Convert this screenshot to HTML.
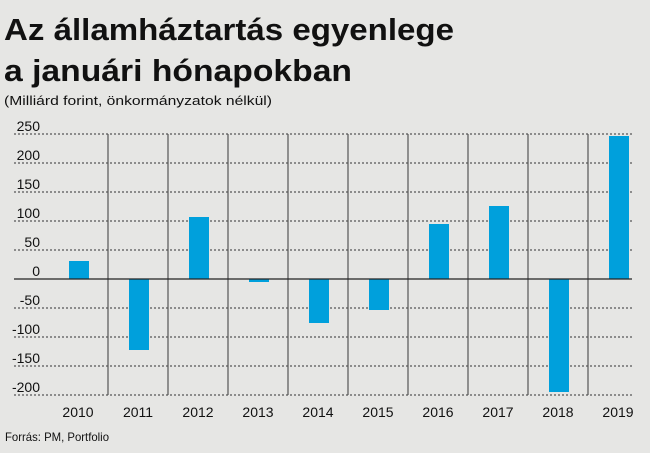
<!DOCTYPE html>
<html><head><meta charset="utf-8"><style>
body{margin:0;background:#e6e6e4;}
svg{display:block}
text{font-family:"Liberation Sans",sans-serif;fill:#111}
</style></head><body>
<svg width="650" height="453" viewBox="0 0 650 453">
<rect width="650" height="453" fill="#e6e6e4"/>
<text x="4" y="40" font-size="31" font-weight="bold" textLength="450" lengthAdjust="spacingAndGlyphs">Az államháztartás egyenlege</text>
<text x="4" y="81" font-size="31" font-weight="bold" textLength="348" lengthAdjust="spacingAndGlyphs">a januári hónapokban</text>
<text x="4" y="105" font-size="13" textLength="268" lengthAdjust="spacingAndGlyphs">(Milliárd forint, önkormányzatok nélkül)</text>
<g stroke="#333" stroke-width="1" stroke-dasharray="2,2">
<line x1="14" x2="632" y1="134" y2="134"/><line x1="14" x2="632" y1="163" y2="163"/>
<line x1="14" x2="632" y1="192" y2="192"/><line x1="14" x2="632" y1="221" y2="221"/>
<line x1="14" x2="632" y1="250" y2="250"/><line x1="14" x2="632" y1="308" y2="308"/>
<line x1="14" x2="632" y1="337" y2="337"/><line x1="14" x2="632" y1="366" y2="366"/>
<line x1="14" x2="632" y1="395" y2="395"/>
</g>
<g stroke="#555" stroke-width="1.2">
<line x1="108" x2="108" y1="134" y2="395"/><line x1="168" x2="168" y1="134" y2="395"/>
<line x1="228" x2="228" y1="134" y2="395"/><line x1="288" x2="288" y1="134" y2="395"/>
<line x1="348" x2="348" y1="134" y2="395"/><line x1="408" x2="408" y1="134" y2="395"/>
<line x1="468" x2="468" y1="134" y2="395"/><line x1="528" x2="528" y1="134" y2="395"/>
<line x1="588" x2="588" y1="134" y2="395"/>
</g>
<g fill="#00a0dc">
<rect x="69" y="261" width="20" height="18"/>
<rect x="129" y="279" width="20" height="71"/>
<rect x="189" y="217" width="20" height="62"/>
<rect x="249" y="279" width="20" height="3"/>
<rect x="309" y="279" width="20" height="44"/>
<rect x="369" y="279" width="20" height="31"/>
<rect x="429" y="224" width="20" height="55"/>
<rect x="489" y="206" width="20" height="73"/>
<rect x="549" y="279" width="20" height="113"/>
<rect x="609" y="136" width="20" height="143"/>
</g>
<line x1="14" x2="632" y1="279" y2="279" stroke="#222" stroke-width="1.2"/>
<g font-size="14" text-anchor="end">
<text x="40" y="131">250</text><text x="40" y="160">200</text><text x="40" y="189">150</text>
<text x="40" y="218">100</text><text x="40" y="247">50</text><text x="40" y="276">0</text>
<text x="40" y="305">-50</text><text x="40" y="334">-100</text><text x="40" y="363">-150</text>
<text x="40" y="392">-200</text>
</g>
<g font-size="14" text-anchor="middle">
<text x="78" y="417">2010</text><text x="138" y="417">2011</text><text x="198" y="417">2012</text>
<text x="258" y="417">2013</text><text x="318" y="417">2014</text><text x="378" y="417">2015</text>
<text x="438" y="417">2016</text><text x="498" y="417">2017</text><text x="558" y="417">2018</text>
<text x="618" y="417">2019</text>
</g>
<text x="5" y="441" font-size="12" textLength="104" lengthAdjust="spacingAndGlyphs">Forrás: PM, Portfolio</text>
</svg>
</body></html>
